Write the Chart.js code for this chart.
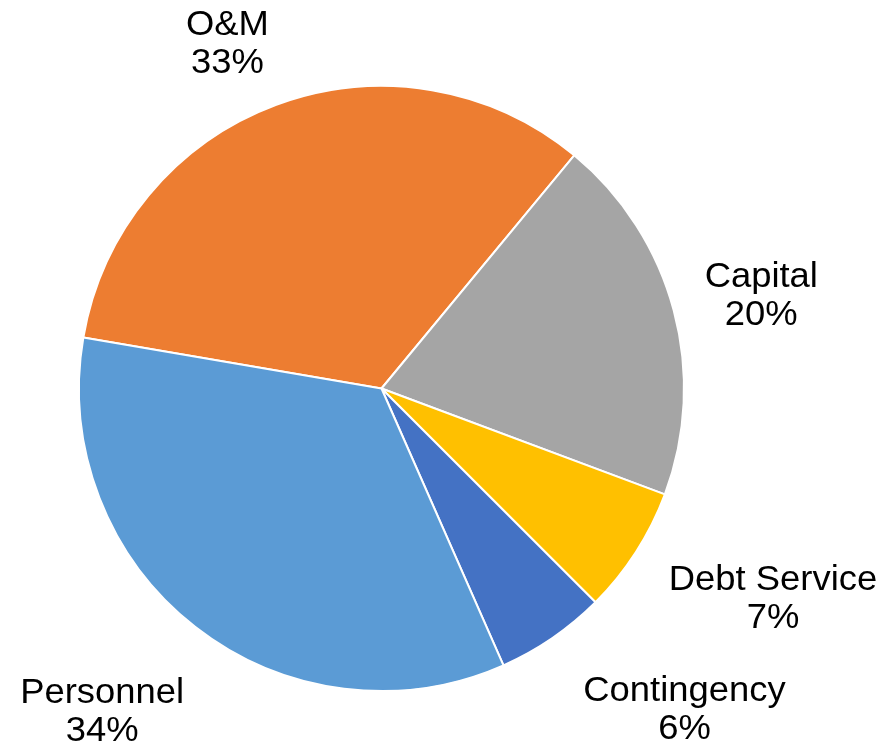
<!DOCTYPE html>
<html>
<head>
<meta charset="utf-8">
<script src="https://cdn.jsdelivr.net/npm/chart.js@4.4.1/dist/chart.umd.min.js"></script>
<style>
  body { margin: 0; background: #fff; }
  #wrap { width: 885px; height: 750px; }
</style>
</head>
<body>
<div id="wrap"><canvas id="pieChart" width="885" height="750"></canvas></div>
<script>
// budget shares (percent)
const categories = ["O&M", "Capital", "Debt Service", "Contingency", "Personnel"];
const shares = [33.3, 19.7, 6.8, 5.9, 34.3];
const sliceColors = ["#ED7D31", "#A5A5A5", "#FFC000", "#4472C4", "#5B9BD5"];

// label placement: shift from slice mid angle (deg) and distance from centre (px)
const labelAngleShift = [-3.7, 1.2, -4.6, -9, 2.9];
const labelDistance = [378, 391, 444, 441, 427];

const total = shares.reduce((a, b) => a + b, 0);

const outsideLabels = {
  id: "outsideLabels",
  afterDatasetsDraw(chart) {
    const ctx = chart.ctx;
    const arcs = chart.getDatasetMeta(0).data;
    ctx.save();
    ctx.fillStyle = "#000";
    ctx.font = "35px 'Liberation Sans', Arial, sans-serif";
    ctx.textAlign = "center";
    ctx.textBaseline = "middle";
    arcs.forEach((arc, i) => {
      const mid = (arc.startAngle + arc.endAngle) / 2 + labelAngleShift[i] * Math.PI / 180;
      const x = arc.x + Math.cos(mid) * labelDistance[i];
      const y = arc.y + Math.sin(mid) * labelDistance[i];
      const pct = Math.round(shares[i] / total * 100) + "%";
      ctx.save();
      ctx.translate(x, y);
      ctx.scale(1.04, 1);
      ctx.fillText(categories[i], 0, -18);
      ctx.fillText(pct, 0, 20);
      ctx.restore();
    });
    ctx.restore();
  }
};

new Chart(document.getElementById("pieChart"), {
  type: "pie",
  data: {
    labels: categories,
    datasets: [{
      data: shares,
      backgroundColor: sliceColors,
      borderColor: "#ffffff",
      borderWidth: 2
    }]
  },
  options: {
    responsive: false,
    animation: false,
    rotation: -80.3,
    layout: { padding: { left: 78, right: 200, top: 85, bottom: 58 } },
    plugins: {
      legend: { display: false },
      tooltip: { enabled: false }
    }
  },
  plugins: [outsideLabels]
});
</script>
</body>
</html>
